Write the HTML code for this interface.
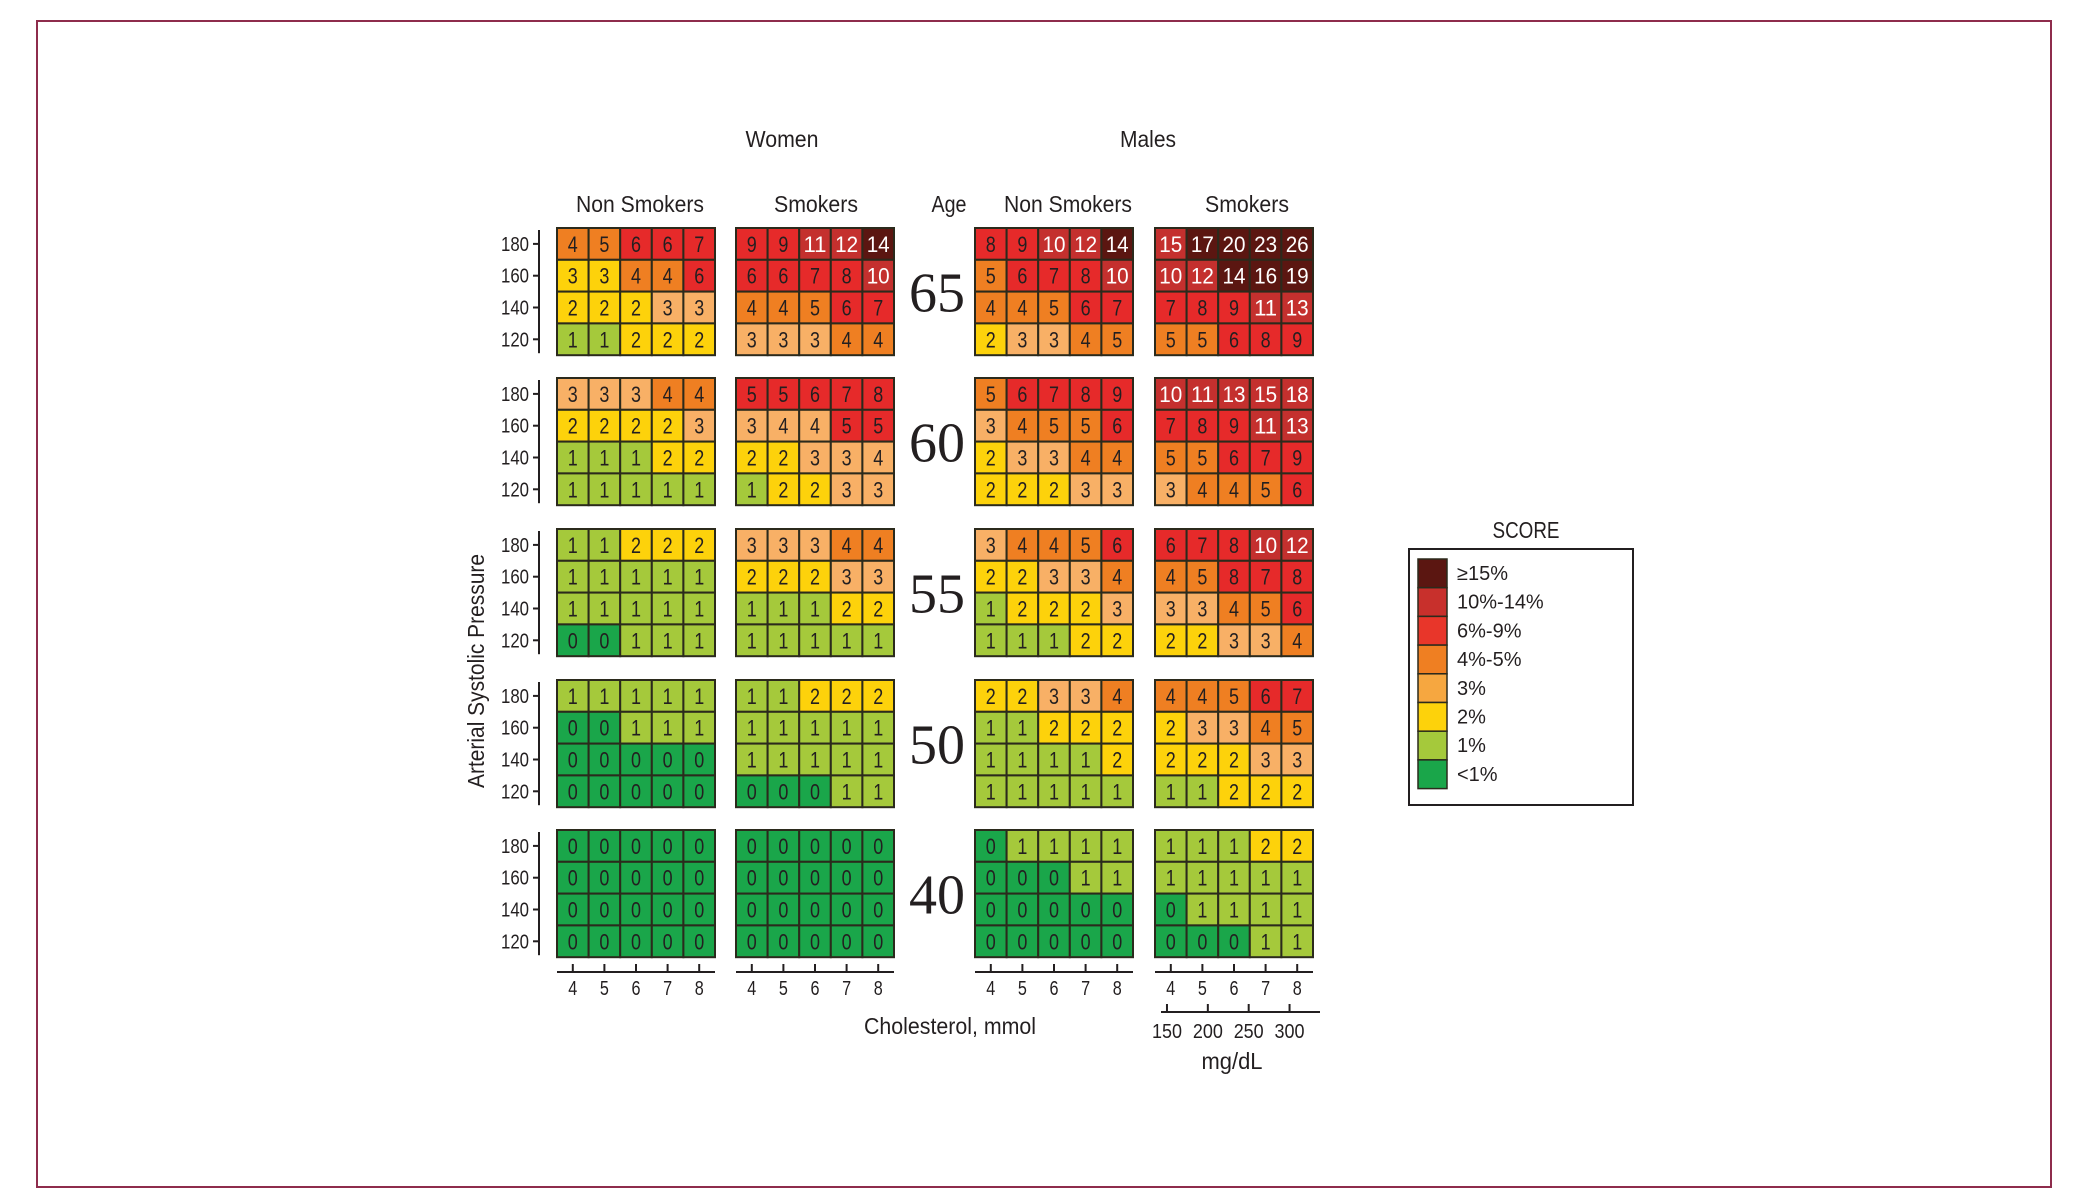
<!DOCTYPE html>
<html><head><meta charset="utf-8">
<style>
html,body{margin:0;padding:0;background:#fff;}
svg{display:block;}
text{font-family:"Liberation Sans Narrow","Liberation Sans",sans-serif;fill:#231f20;}
.serif{font-family:"Liberation Serif",serif;}
</style></head>
<body>
<svg id="chart" width="2087" height="1200" viewBox="0 0 2087 1200" xmlns="http://www.w3.org/2000/svg">
<rect x="37" y="21" width="2014" height="1166" fill="none" stroke="#8e2c4c" stroke-width="2"/>
<text x="782" y="147" font-size="23" text-anchor="middle" textLength="73" lengthAdjust="spacingAndGlyphs">Women</text>
<text x="1148" y="147" font-size="23" text-anchor="middle" textLength="56" lengthAdjust="spacingAndGlyphs">Males</text>
<text x="640" y="212" font-size="23" text-anchor="middle" textLength="128" lengthAdjust="spacingAndGlyphs">Non Smokers</text>
<text x="816" y="212" font-size="23" text-anchor="middle" textLength="84" lengthAdjust="spacingAndGlyphs">Smokers</text>
<text x="949" y="212" font-size="23" text-anchor="middle" textLength="35" lengthAdjust="spacingAndGlyphs">Age</text>
<text x="1068" y="212" font-size="23" text-anchor="middle" textLength="128" lengthAdjust="spacingAndGlyphs">Non Smokers</text>
<text x="1247" y="212" font-size="23" text-anchor="middle" textLength="84" lengthAdjust="spacingAndGlyphs">Smokers</text>
<text transform="translate(484,671) rotate(-90)" font-size="23" text-anchor="middle" textLength="234" lengthAdjust="spacingAndGlyphs">Arterial Systolic Pressure</text>
<text x="950" y="1034" font-size="23" text-anchor="middle" textLength="172" lengthAdjust="spacingAndGlyphs">Cholesterol, mmol</text>
<text x="1232" y="1069" font-size="23" text-anchor="middle" textLength="61" lengthAdjust="spacingAndGlyphs">mg/dL</text>
<g id="grids"></g>
<g id="legend"></g>
</svg>
<script>
const ages = [65, 60, 55, 50, 40];
const sbpTicks = [180, 160, 140, 120];
const cholTicks = [4, 5, 6, 7, 8];
const mgTicks = [150, 200, 250, 300];
const panelNames = ["women-non-smokers", "women-smokers", "men-non-smokers", "men-smokers"];
const womenNonSmokers = [
 [[4,5,6,6,7],[3,3,4,4,6],[2,2,2,3,3],[1,1,2,2,2]],
 [[3,3,3,4,4],[2,2,2,2,3],[1,1,1,2,2],[1,1,1,1,1]],
 [[1,1,2,2,2],[1,1,1,1,1],[1,1,1,1,1],[0,0,1,1,1]],
 [[1,1,1,1,1],[0,0,1,1,1],[0,0,0,0,0],[0,0,0,0,0]],
 [[0,0,0,0,0],[0,0,0,0,0],[0,0,0,0,0],[0,0,0,0,0]]];
const womenSmokers = [
 [[9,9,11,12,14],[6,6,7,8,10],[4,4,5,6,7],[3,3,3,4,4]],
 [[5,5,6,7,8],[3,4,4,5,5],[2,2,3,3,4],[1,2,2,3,3]],
 [[3,3,3,4,4],[2,2,2,3,3],[1,1,1,2,2],[1,1,1,1,1]],
 [[1,1,2,2,2],[1,1,1,1,1],[1,1,1,1,1],[0,0,0,1,1]],
 [[0,0,0,0,0],[0,0,0,0,0],[0,0,0,0,0],[0,0,0,0,0]]];
const menNonSmokers = [
 [[8,9,10,12,14],[5,6,7,8,10],[4,4,5,6,7],[2,3,3,4,5]],
 [[5,6,7,8,9],[3,4,5,5,6],[2,3,3,4,4],[2,2,2,3,3]],
 [[3,4,4,5,6],[2,2,3,3,4],[1,2,2,2,3],[1,1,1,2,2]],
 [[2,2,3,3,4],[1,1,2,2,2],[1,1,1,1,2],[1,1,1,1,1]],
 [[0,1,1,1,1],[0,0,0,1,1],[0,0,0,0,0],[0,0,0,0,0]]];
const menSmokers = [
 [[15,17,20,23,26],[10,12,14,16,19],[7,8,9,11,13],[5,5,6,8,9]],
 [[10,11,13,15,18],[7,8,9,11,13],[5,5,6,7,9],[3,4,4,5,6]],
 [[6,7,8,10,12],[4,5,8,7,8],[3,3,4,5,6],[2,2,3,3,4]],
 [[4,4,5,6,7],[2,3,3,4,5],[2,2,2,3,3],[1,1,2,2,2]],
 [[1,1,1,2,2],[1,1,1,1,1],[0,1,1,1,1],[0,0,0,1,1]]];
const panels = [womenNonSmokers, womenSmokers, menNonSmokers, menSmokers];
// colour overrides: [panel, ageIndex, row, col, level]
const overrides = [[0,0,1,0,2],[0,0,1,1,2],[1,1,0,0,5],[1,1,0,1,5],[1,1,1,3,5],[1,1,1,4,5],[1,1,1,1,3],[1,1,1,2,3],[1,1,2,4,3],
 [3,0,0,0,6],[3,1,0,3,6],[3,1,0,4,6]];
const legendLabels = ["\u226515%","10%-14%","6%-9%","4%-5%","3%","2%","1%","<1%"];
const levelColors = ["#1aa64a","#a5c93b","#fdd20b","#f8b066","#ef7f22","#e62a2a","#c4302e","#5b1611"];
const legendColors = ["#5b1611","#c8302c","#e8362a","#ef7f22","#f6a740","#fdd20b","#a5c93b","#1aa64a"];

const NS="http://www.w3.org/2000/svg";
const panelX=[557,736,975,1155], rowY=[228,378,529,680,830];
const cw=31.6, ch=31.8;
const colX=(p,c)=>panelX[p]+c*cw, rowTop=(a,r)=>rowY[a]+r*ch;
function mk(tag,attrs,parent){const e=document.createElementNS(NS,tag);for(const k in attrs)e.setAttribute(k,attrs[k]);parent.appendChild(e);return e;}
function level(v){if(v<=0)return 0;if(v==1)return 1;if(v==2)return 2;if(v==3)return 3;if(v<=5)return 4;if(v<=9)return 5;if(v<=13)return 6;return 7;}
const G=document.getElementById('grids');
panels.forEach((data,p)=>{
 data.forEach((grid,a)=>{
  const g=mk('g',{},G);
  
  
  grid.forEach((row,r)=>row.forEach((v,c)=>{
   let lv=level(v);
   overrides.forEach(o=>{if(o[0]==p&&o[1]==a&&o[2]==r&&o[3]==c)lv=o[4];});
   const rc=mk('rect',{x:colX(p,c),y:rowTop(a,r),width:cw,height:ch,fill:levelColors[lv],stroke:'#2b2a1c','stroke-width':2},g);
   
   
   const t=mk('text',{x:colX(p,c)+cw/2,y:rowTop(a,r)+ch/2+8,'font-size':22,'text-anchor':'middle'},g);
   if(v>=10){t.setAttribute('textLength',23);t.setAttribute('lengthAdjust','spacingAndGlyphs');}
   else{t.setAttribute('textLength',10);t.setAttribute('lengthAdjust','spacingAndGlyphs');}
   
   
   t.style.fill=lv>=6?'#fff':'#231f20';
   t.textContent=v;
  }));
 });
});
// y axes
ages.forEach((age,a)=>{
 const y0=rowY[a];
 const ln=mk('line',{x1:539,x2:539,y1:y0+2,y2:y0+4*ch-2,stroke:'#231f20','stroke-width':2},G);
 
 
 sbpTicks.forEach((s,r)=>{
  const cy=rowTop(a,r)+ch/2;
  mk('line',{x1:533,x2:539,y1:cy,y2:cy,stroke:'#231f20','stroke-width':2},G);
  const t=mk('text',{x:529,y:cy+7,'font-size':20,'text-anchor':'end',textLength:28,lengthAdjust:'spacingAndGlyphs'},G);
  
  
  t.textContent=s;
 });
 const at=mk('text',{x:937,y:y0+4*ch/2+20,'font-size':56,'text-anchor':'middle','class':'serif'},G);
 
 
 at.textContent=age;
});
// x axes
panelX.forEach((px,p)=>{
 mk('line',{x1:px,x2:px+5*cw,y1:972,y2:972,stroke:'#231f20','stroke-width':2},G);
 cholTicks.forEach((c,i)=>{
  const cx=colX(p,i)+cw/2;
  mk('line',{x1:cx,x2:cx,y1:964,y2:972,stroke:'#231f20','stroke-width':2},G);
  const t=mk('text',{x:cx,y:995,'font-size':20,'text-anchor':'middle',textLength:9,lengthAdjust:'spacingAndGlyphs'},G);
  
  
  t.textContent=c;
 });
});
// mg/dL axis: 38.67 mg/dL per mmol
const mgX=v=>colX(3,0)+cw/2+(v/38.67-4)*cw;
mk('line',{x1:1161,x2:1320,y1:1012,y2:1012,stroke:'#231f20','stroke-width':2},G);
mgTicks.forEach(m=>{
 mk('line',{x1:mgX(m),x2:mgX(m),y1:1004,y2:1012,stroke:'#231f20','stroke-width':2},G);
 const t=mk('text',{x:mgX(m),y:1038,'font-size':20,'text-anchor':'middle',textLength:30,lengthAdjust:'spacingAndGlyphs'},G);
 
 
 t.textContent=m;
});
// legend
const L=document.getElementById('legend');
const lt=mk('text',{x:1526,y:538,'font-size':23,'text-anchor':'middle',textLength:67,lengthAdjust:'spacingAndGlyphs'},L);


lt.textContent='SCORE';
const lb=mk('rect',{x:1409,y:549,width:224,height:256,fill:'none',stroke:'#231f20','stroke-width':2},L);


legendLabels.forEach((lab,i)=>{
 const y=559+i*28.7;
 const sw=mk('rect',{x:1418,y:y,width:29,height:28.7,fill:legendColors[i],stroke:'#2b2a1c','stroke-width':1.5},L);
 
 
 const t=mk('text',{x:1457,y:y+21,'font-size':20},L);
 
 
 t.textContent=lab;
});
</script>
</body></html>
